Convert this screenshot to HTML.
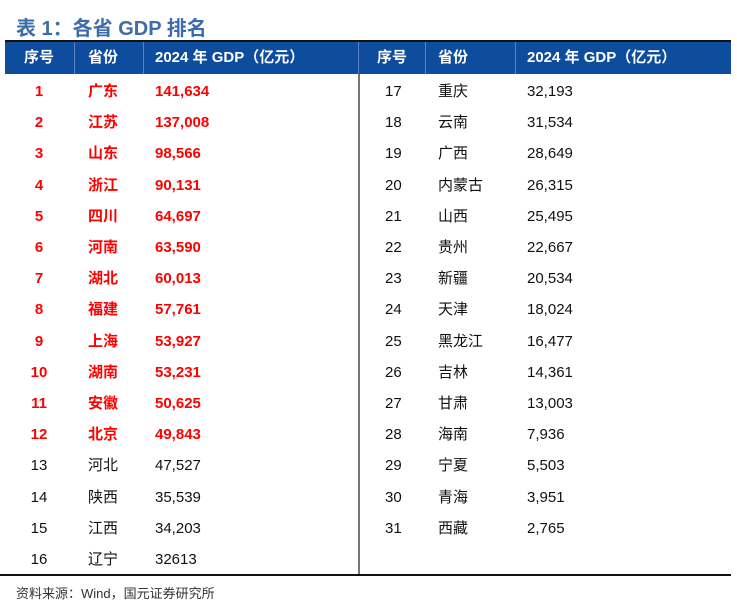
<!DOCTYPE html>
<html><head><meta charset="utf-8"><style>
body{margin:0;width:737px;height:604px;background:#fff;position:relative;overflow:hidden;font-family:"Liberation Sans","Noto Sans CJK SC",sans-serif}
.a{position:absolute;white-space:nowrap}
.t{font-size:15px;color:#111;line-height:20px}
.r{color:#f00;font-weight:bold}
.h{color:#fff;font-size:15px;font-weight:bold;line-height:20px}
</style></head><body>
<div class="a" style="left:16px;top:12px;font-size:20px;font-weight:bold;color:#3d6cab">表 1：各省 GDP 排名</div>
<div class="a" style="left:5px;top:40px;width:726px;height:2px;background:#111"></div>
<div class="a" style="left:5px;top:42px;width:726px;height:32px;background:#0e4c9e"></div>
<div class="a" style="left:74px;top:42px;width:1px;height:32px;background:#5a83c0"></div>
<div class="a" style="left:143px;top:42px;width:1px;height:32px;background:#5a83c0"></div>
<div class="a" style="left:358px;top:42px;width:1px;height:32px;background:#5a83c0"></div>
<div class="a" style="left:425px;top:42px;width:1px;height:32px;background:#5a83c0"></div>
<div class="a" style="left:515px;top:42px;width:1px;height:32px;background:#5a83c0"></div>
<div class="a h" style="left:24px;top:48px">序号</div>
<div class="a h" style="left:88px;top:48px">省份</div>
<div class="a h" style="left:155px;top:48px">2024 年 GDP（亿元）</div>
<div class="a h" style="left:377px;top:48px">序号</div>
<div class="a h" style="left:438px;top:48px">省份</div>
<div class="a h" style="left:527px;top:48px">2024 年 GDP（亿元）</div>
<div class="a" style="left:358px;top:74px;width:2px;height:501px;background:#777"></div>
<div class="a" style="left:0;top:574px;width:731px;height:2px;background:#111"></div>
<div class="a" style="left:16px;top:583px;font-size:13px;color:#333">资料来源：Wind，国元证券研究所</div>
<div id="rows"></div>
<script>
const ranks=[1,2,3,4,5,6,7,8,9,10,11,12,13,14,15,16,17,18,19,20,21,22,23,24,25,26,27,28,29,30,31];
const provinces=["广东","江苏","山东","浙江","四川","河南","湖北","福建","上海","湖南","安徽","北京","河北","陕西","江西","辽宁","重庆","云南","广西","内蒙古","山西","贵州","新疆","天津","黑龙江","吉林","甘肃","海南","宁夏","青海","西藏"];
const gdp=["141,634","137,008","98,566","90,131","64,697","63,590","60,013","57,761","53,927","53,231","50,625","49,843","47,527","35,539","34,203","32613","32,193","31,534","28,649","26,315","25,495","22,667","20,534","18,024","16,477","14,361","13,003","7,936","5,503","3,951","2,765"];
const box=document.getElementById('rows');
ranks.forEach((rk,i)=>{
  const right=i>=16, row=right?i-16:i, y=82+row*31.2;
  const red=i<12;
  const cols=right?[[385,false],[438,false],[527,false]]:[[39,true],[88,false],[155,false]];
  const vals=[rk,provinces[i],gdp[i]];
  const names=['rank-cell','province-cell','gdp-cell'];
  cols.forEach((c,j)=>{
    const d=document.createElement('div');
    
    
    d.className='a t'+(red?' r':'');
    d.textContent=vals[j];
    d.style.top=y+'px';
    if(c[1]){d.style.left=(c[0]-20)+'px';d.style.width='40px';d.style.textAlign='center';}
    else d.style.left=c[0]+'px';
    box.appendChild(d);
  });
});
</script>
</body></html>
